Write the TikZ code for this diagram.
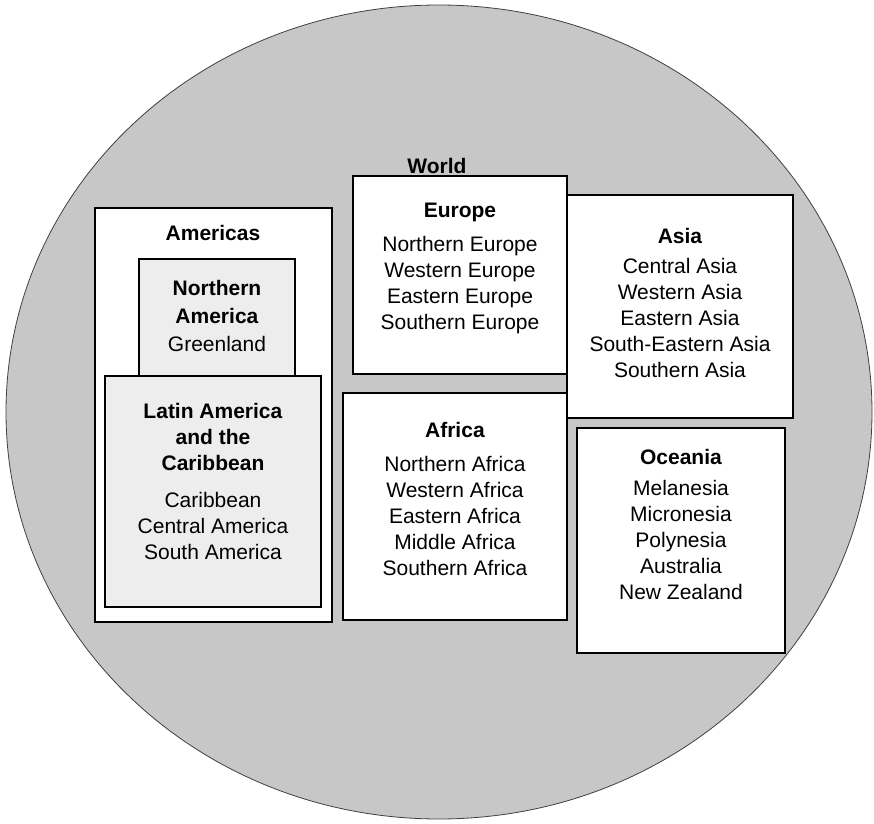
\documentclass[tikz,border=0pt]{standalone}
\usepackage{fontspec}
\setmainfont{Liberation Sans}
\usepackage{tikz}
\usetikzlibrary{shapes.geometric}
\tikzstyle{globe} = [draw=black!75, fill=black!22, ellipse, inner sep=0pt, minimum width=433pt, minimum height=407pt]
\tikzstyle{region} = [draw=black, line width=0.8pt, fill=white, inner sep=0pt]
\tikzstyle{sub} = [region, fill=black!7]
\tikzstyle{names} = [align=center, font={\fontsize{10.5}{13}\selectfont}]
\tikzstyle{title} = [font={\fontsize{10.5}{13}\selectfont\bfseries}]

\begin{document}
\begin{tikzpicture}[x=0.5pt,y=-0.5pt]
    \useasboundingbox (0,0) rectangle (874,824);
    \node[globe](w) at (439,412){};
    \node[title](wl) at (437,166){World};
    \node[region,minimum width=118.5pt,minimum height=207pt](am) at (213.5,415){};
    \node[sub,minimum width=78pt,minimum height=64pt](na) at (217,323){};
    \node[sub,minimum width=108pt,minimum height=115.5pt](la) at (213,491.5){};
    \node[region,minimum width=107pt,minimum height=99pt](eu) at (460,275){};
    \node[region,minimum width=112pt,minimum height=113.5pt](af) at (455,506.5){};
    \node[region,minimum width=113pt,minimum height=111.5pt](as) at (680,306.5){};
    \node[region,minimum width=104pt,minimum height=112.5pt](oc) at (681,540.5){};
    \node[title](aml) at (213,233){Americas};
    \node[names](nal) at (217,316){\textbf{Northern}\\[1pt]\textbf{America}\\[1pt]Greenland};
    \node[names](lal) at (213,481.5){\textbf{Latin America}\\\textbf{and the}\\\textbf{Caribbean}\\[5.5pt]Caribbean\\Central America\\South America};
    \node[names](eul) at (460,268){\textbf{Europe}\\[4pt]Northern Europe\\Western Europe\\Eastern Europe\\Southern Europe};
    \node[names](afl) at (455,499){\textbf{Africa}\\[4pt]Northern Africa\\Western Africa\\Eastern Africa\\Middle Africa\\Southern Africa};
    \node[names](asl) at (680,302.5){\textbf{Asia}\\[2pt]Central Asia\\Western Asia\\Eastern Asia\\South-Eastern Asia\\Southern Asia};
    \node[names](ocl) at (681,524){\textbf{Oceania}\\[2.5pt]Melanesia\\Micronesia\\Polynesia\\Australia\\New Zealand};
  \end{tikzpicture}
\end{document}
